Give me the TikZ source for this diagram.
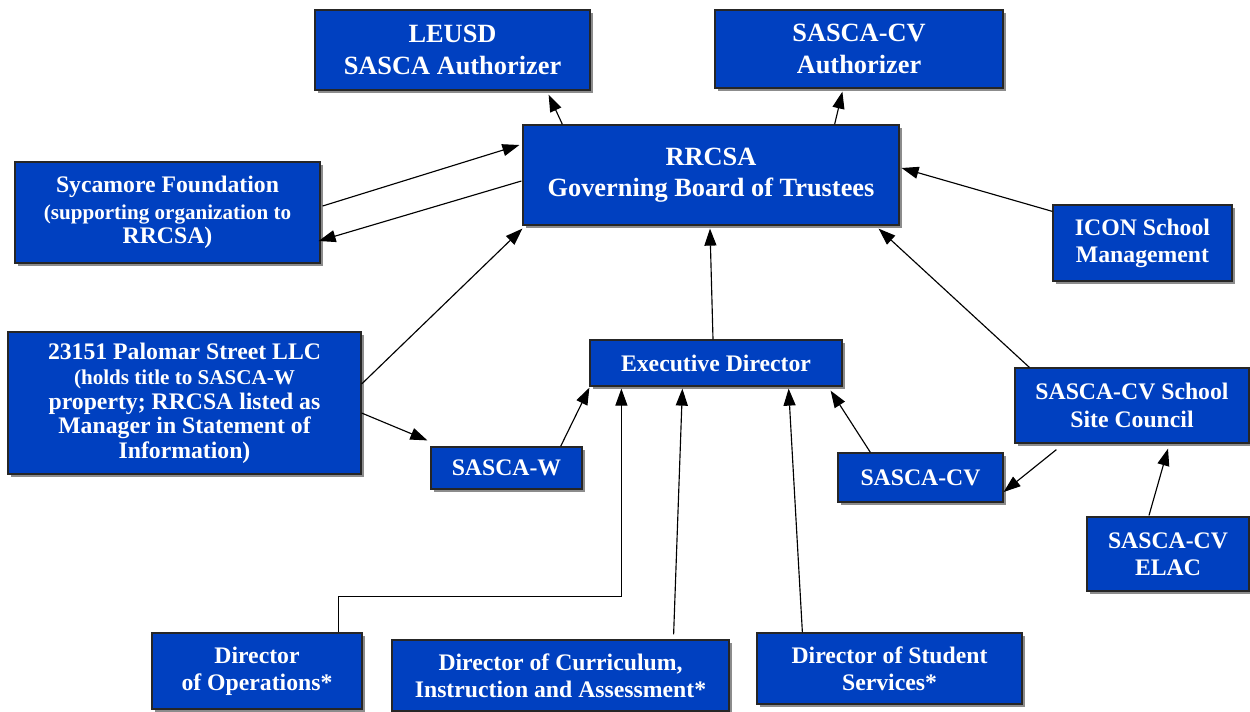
\documentclass[tikz,border=0pt]{standalone}
\usepackage{fontspec}
\setmainfont{Liberation Serif}
\usetikzlibrary{arrows.meta,shadows,positioning}
\definecolor{boxblue}{RGB}{0,64,192}
\newcommand{\subsize}{\fontsize{12}{14.2}\selectfont}

\begin{document}
\begin{tikzpicture}[
  box/.style={draw=black!85, line width=0.7pt, fill=boxblue, text=white, align=center,
    inner sep=0pt, font=\bfseries,
    drop shadow={shadow xshift=0.05cm, shadow yshift=-0.05cm, fill=black!45, opacity=1}},
  bigtxt/.style={font=\fontsize{15}{18}\selectfont\bfseries},
  medtxt/.style={font=\fontsize{13.5}{15.5}\selectfont\bfseries},
  subtxt/.style={font=\fontsize{13.5}{14}\selectfont\bfseries},
  arr/.style={-{Triangle[length=0.34cm,width=0.24cm]}, line width=0.65pt, black}]
\useasboundingbox (0,0) rectangle (25,-14.22);

\node[box, bigtxt, minimum width=5.5cm, minimum height=1.6cm] (leusd) at (9.05,-1.0) {LEUSD\\SASCA Authorizer};
\node[box, bigtxt, minimum width=5.76cm, minimum height=1.56cm] (cvauth) at (17.18,-0.98) {SASCA-CV\\Authorizer};
\node[box, bigtxt, minimum width=7.52cm, minimum height=2.0cm] (rrcsa) at (14.22,-3.5) {RRCSA\\Governing Board of Trustees};
\node[box, subtxt, minimum width=6.1cm, minimum height=2.02cm] (sycamore) at (3.35,-4.25)
  {Sycamore Foundation\\[1pt]\subsize (supporting organization to\\RRCSA)};
\node[box, medtxt, minimum width=3.58cm, minimum height=1.52cm] (icon) at (22.85,-4.86) {ICON School\\Management};
\node[box, subtxt, minimum width=7.06cm, minimum height=2.84cm] (palomar) at (3.69,-8.06)
  {23151 Palomar Street LLC\\[0.5pt]\subsize (holds title to SASCA-W\\property; RRCSA listed as\\Manager in Statement of\\Information)};
\node[box, medtxt, minimum width=5.04cm, minimum height=0.92cm] (exec) at (14.32,-7.26) {Executive Director};
\node[box, medtxt, minimum width=3.02cm, minimum height=0.84cm] (sascaw) at (10.13,-9.36) {SASCA-W};
\node[box, medtxt, minimum width=4.68cm, minimum height=1.5cm] (ssc) at (22.64,-8.11) {SASCA-CV School\\Site Council};
\node[box, medtxt, minimum width=3.3cm, minimum height=0.98cm] (sascacv) at (18.41,-9.55) {SASCA-CV};
\node[box, medtxt, minimum width=3.24cm, minimum height=1.48cm] (elac) at (23.36,-11.08) {SASCA-CV\\ELAC};
\node[box, medtxt, minimum width=4.2cm, minimum height=1.52cm] (dirops) at (5.14,-13.42) {Director\\of Operations*};
\node[box, medtxt, minimum width=6.74cm, minimum height=1.42cm] (dircur) at (11.21,-13.51) {Director of Curriculum,\\Instruction and Assessment*};
\node[box, medtxt, minimum width=5.3cm, minimum height=1.42cm] (dirstu) at (17.79,-13.37) {Director of Student\\Services*};

% board links
\draw[arr] ([xshift=0.8cm]rrcsa.north west) -- ([xshift=-0.84cm,yshift=-0.08cm]leusd.south east);
\draw[arr] ([xshift=-1.3cm]rrcsa.north east) -- ([xshift=2.56cm,yshift=-0.06cm]cvauth.south west);
\draw[arr] ([xshift=0.04cm,yshift=0.13cm]sycamore.east) -- ([xshift=-0.06cm,yshift=0.6cm]rrcsa.west);
\draw[arr] ([xshift=-0.02cm,yshift=-0.12cm]rrcsa.west) -- ([xshift=-0.04cm,yshift=-0.57cm]sycamore.east);
\draw[arr] ([yshift=0.38cm]palomar.east) -- ([yshift=-0.06cm]rrcsa.south west);
\draw[arr] ([yshift=-0.2cm]palomar.east) -- ([xshift=-0.06cm,yshift=0.12cm]sascaw.north west);
\draw[arr] ([yshift=-0.14cm]icon.north west) -- ([xshift=0.04cm,yshift=0.14cm]rrcsa.east);
\draw[arr] ([xshift=0.3cm]ssc.north west) -- ([xshift=-0.42cm,yshift=-0.06cm]rrcsa.south east);
\draw[arr] ([xshift=-0.06cm]exec.north) -- ([xshift=-0.02cm,yshift=-0.06cm]rrcsa.south);

% schools and staff
\draw[arr] ([xshift=-0.44cm]sascaw.north east) -- ([yshift=-0.02cm]exec.south west);
\draw[arr] ([xshift=0.66cm]sascacv.north west) -- ([xshift=-0.24cm,yshift=-0.08cm]exec.south east);
\draw[arr] ([xshift=0.84cm,yshift=-0.12cm]ssc.south west) -- ([yshift=-0.29cm]sascacv.east);
\draw[arr] ([xshift=-0.38cm,yshift=0.02cm]elac.north) -- ([xshift=0.72cm,yshift=-0.1cm]ssc.south);
\draw[arr] ([xshift=-0.48cm]dirops.north east) -- ++(0,0.72) -| ([xshift=0.64cm,yshift=-0.04cm]exec.south west);
\draw[arr] ([xshift=-1.12cm,yshift=0.1cm]dircur.north east) -- ([xshift=1.86cm,yshift=-0.04cm]exec.south west);
\draw[arr] ([xshift=0.92cm]dirstu.north west) -- ([xshift=-1.08cm,yshift=-0.04cm]exec.south east);
\end{tikzpicture}
\end{document}
